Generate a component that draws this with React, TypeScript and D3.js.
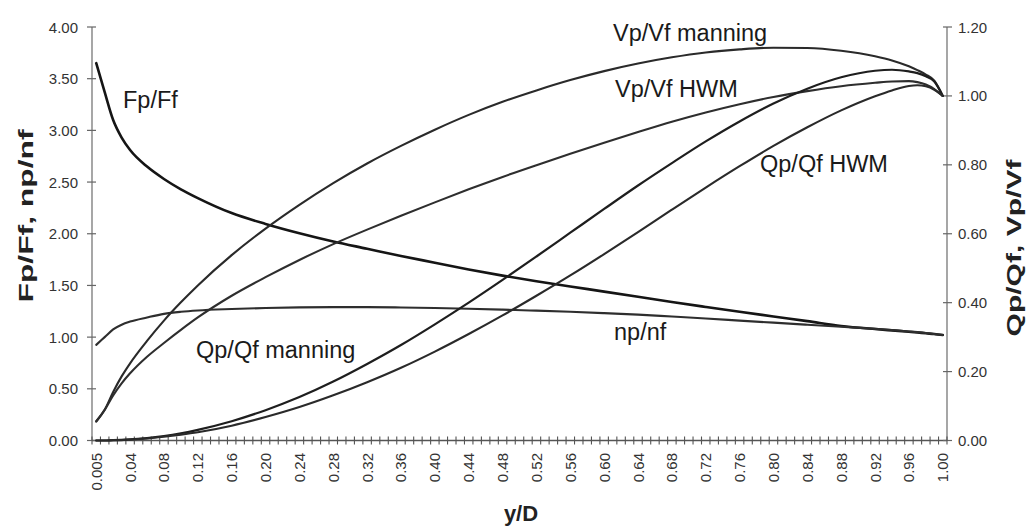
import React from "react";
import * as d3 from "d3";

const categories = [
  "0.005","0.01","0.02","0.03","0.04","0.05","0.06","0.07","0.08","0.09",
  "0.10","0.11","0.12","0.13","0.14","0.15","0.16","0.17","0.18","0.19",
  "0.20","0.21","0.22","0.23","0.24","0.25","0.26","0.27","0.28","0.29",
  "0.30","0.31","0.32","0.33","0.34","0.35","0.36","0.37","0.38","0.39",
  "0.40","0.41","0.42","0.43","0.44","0.45","0.46","0.47","0.48","0.49",
  "0.50","0.51","0.52","0.53","0.54","0.55","0.56","0.57","0.58","0.59",
  "0.60","0.61","0.62","0.63","0.64","0.65","0.66","0.67","0.68","0.69",
  "0.70","0.71","0.72","0.73","0.74","0.75","0.76","0.77","0.78","0.79",
  "0.80","0.81","0.82","0.83","0.84","0.85","0.86","0.87","0.88","0.89",
  "0.90","0.91","0.92","0.93","0.94","0.95","0.96","0.97","0.98","0.99",
  "1.00"
];

const xTickLabels = [
  "0.005","0.04","0.08","0.12","0.16","0.20","0.24","0.28","0.32","0.36",
  "0.40","0.44","0.48","0.52","0.56","0.60","0.64","0.68","0.72","0.76",
  "0.80","0.84","0.88","0.92","0.96","1.00"
];

const leftTicks = [0, 0.5, 1, 1.5, 2, 2.5, 3, 3.5, 4];
const rightTicks = [0, 0.2, 0.4, 0.6, 0.8, 1.0, 1.2];

const depthSamples = [
  "0.005","0.01","0.02","0.03","0.04","0.06","0.08","0.10","0.12","0.16",
  "0.20","0.24","0.28","0.32","0.36","0.40","0.44","0.48","0.52","0.56",
  "0.60","0.64","0.68","0.72","0.76","0.80","0.84","0.88","0.92","0.94",
  "0.96","0.97","0.98","0.99","1.00"
];

// left axis series
const fpff = [
  3.65,3.37,3.10,2.93,2.81,2.65,2.53,2.43,2.345,2.20,
  2.095,2.005,1.925,1.855,1.785,1.72,1.655,1.595,1.54,1.49,
  1.44,1.39,1.34,1.292,1.245,1.20,1.155,1.108,1.078,1.065,
  1.052,1.045,1.037,1.03,1.02
];
const npnf = [
  0.925,1.00,1.075,1.12,1.15,1.19,1.225,1.245,1.258,1.272,
  1.282,1.288,1.29,1.29,1.287,1.282,1.275,1.266,1.256,1.245,
  1.232,1.218,1.199,1.18,1.16,1.14,1.12,1.10,1.08,1.068,
  1.055,1.048,1.04,1.03,1.02
];

// right axis series
const vpvfManning = [
  0.056,0.089,0.141,0.186,0.224,0.289,0.348,0.401,0.450,0.538,
  0.615,0.684,0.747,0.804,0.855,0.902,0.945,0.983,1.016,1.046,
  1.072,1.094,1.112,1.126,1.135,1.140,1.139,1.131,1.115,1.103,
  1.086,1.075,1.062,1.044,1.000
];
const vpvfHWM = [
  0.055,0.089,0.131,0.166,0.195,0.243,0.283,0.321,0.357,0.420,
  0.474,0.524,0.570,0.612,0.652,0.691,0.729,0.765,0.799,0.832,
  0.864,0.895,0.925,0.952,0.976,0.997,1.014,1.028,1.038,1.042,
  1.043,1.040,1.033,1.020,1.000
];
const qpqfManning = [
  0.000,0.000,0.001,0.002,0.003,0.007,0.013,0.021,0.031,0.056,
  0.088,0.126,0.171,0.222,0.277,0.337,0.400,0.466,0.534,0.603,
  0.672,0.740,0.805,0.868,0.926,0.978,1.021,1.054,1.073,1.076,
  1.071,1.066,1.057,1.042,1.000
];
const qpqfHWM = [
  0.000,0.000,0.001,0.001,0.003,0.006,0.011,0.017,0.024,0.043,
  0.068,0.097,0.131,0.169,0.211,0.258,0.309,0.363,0.420,0.479,
  0.541,0.605,0.670,0.734,0.796,0.855,0.909,0.958,0.999,1.016,
  1.029,1.031,1.028,1.018,1.000
];

const W = 1028, H = 527;
const M = { left: 92, right: 947, top: 27, bottom: 440.5 };
const FONT = "'Liberation Sans', Arial, Helvetica, sans-serif";

export default function App() {
  const x = d3.scaleBand<string>().domain(categories).range([M.left, M.right]).paddingInner(0).paddingOuter(0);
  const xc = (c: string) => (x(c) as number) + x.bandwidth() / 2;
  const yL = d3.scaleLinear().domain([0, 4]).range([M.bottom, M.top]);
  const yR = d3.scaleLinear().domain([0, 1.2]).range([M.bottom, M.top]);

  const mk = (vals: number[], scale: d3.ScaleLinear<number, number>) =>
    d3.line<number>()
      .x((_, i) => xc(depthSamples[i]))
      .y((v) => scale(v))
      .curve(d3.curveMonotoneX)(vals) as string;

  const series = [
    { d: mk(fpff, yL), w: 2.6, c: "#151515" },
    { d: mk(npnf, yL), w: 2.1, c: "#2e2e2e" },
    { d: mk(vpvfManning, yR), w: 2.1, c: "#2a2a2a" },
    { d: mk(vpvfHWM, yR), w: 2.1, c: "#2e2e2e" },
    { d: mk(qpqfManning, yR), w: 2.2, c: "#1e1e1e" },
    { d: mk(qpqfHWM, yR), w: 2.1, c: "#2a2a2a" },
  ];

  const boundaries = d3.range(categories.length + 1).map((i) => M.left + i * x.bandwidth());

  return (
    <svg width={W} height={H} style={{ position: "absolute", left: 0, top: 0, background: "#fff" }} fontFamily={FONT}>
      <rect x={0} y={0} width={W} height={H} fill="#fff" />
      {/* axes */}
      <line x1={M.left} x2={M.left} y1={M.top} y2={M.bottom} stroke="#777" strokeWidth={1.3} />
      <line x1={M.right} x2={M.right} y1={M.top} y2={M.bottom} stroke="#777" strokeWidth={1.3} />
      <line x1={M.left} x2={M.right} y1={M.bottom} y2={M.bottom} stroke="#555" strokeWidth={1.3} />
      {leftTicks.map((t) => (
        <g key={"l" + t}>
          <line x1={M.left - 5} x2={M.left + 4} y1={yL(t)} y2={yL(t)} stroke="#666" strokeWidth={1.2} />
          <text x={78} y={yL(t)} textAnchor="end" dominantBaseline="central" fontSize={15} fill="#333">
            {t.toFixed(2)}
          </text>
        </g>
      ))}
      {rightTicks.map((t) => (
        <g key={"r" + t}>
          <line x1={M.right - 4} x2={M.right + 5} y1={yR(t)} y2={yR(t)} stroke="#666" strokeWidth={1.2} />
          <text x={958} y={yR(t)} textAnchor="start" dominantBaseline="central" fontSize={15} fill="#333">
            {t.toFixed(2)}
          </text>
        </g>
      ))}
      {boundaries.map((bx, i) => (
        <line key={"b" + i} x1={bx} x2={bx} y1={M.bottom - 4} y2={M.bottom + 4} stroke="#555" strokeWidth={1.1} />
      ))}
      {xTickLabels.map((c) => (
        <text key={"x" + c} transform={`translate(${xc(c)},453) rotate(-90)`} textAnchor="end" dominantBaseline="central" fontSize={15} fill="#333">
          {c}
        </text>
      ))}
      {/* series */}
      {series.map((s, i) => (
        <path key={i} d={s.d} fill="none" stroke={s.c} strokeWidth={s.w} strokeLinejoin="round" strokeLinecap="round" />
      ))}
      {/* curve labels */}
      <g fontSize={23.5} fill="#1a1a1a">
        <text x={123} y={108}>Fp/Ff</text>
        <text x={613} y={41}>Vp/Vf manning</text>
        <text x={615} y={97}>Vp/Vf HWM</text>
        <text x={760} y={172}>Qp/Qf HWM</text>
        <text x={196} y={358}>Qp/Qf manning</text>
        <text x={614} y={340}>np/nf</text>
      </g>
      {/* axis titles */}
      <text transform="translate(33,216) rotate(-90)" textAnchor="middle" fontSize={21} fontWeight="bold" fill="#222" textLength={173} lengthAdjust="spacingAndGlyphs">
        Fp/Ff, np/nf
      </text>
      <text transform="translate(1021,248) rotate(-90)" textAnchor="middle" fontSize={21} fontWeight="bold" fill="#222" textLength={177} lengthAdjust="spacingAndGlyphs">
        Qp/Qf, Vp/Vf
      </text>
      <text x={521} y={521} textAnchor="middle" fontSize={22} fontWeight="bold" fill="#222">
        y/D
      </text>
    </svg>
  );
}
